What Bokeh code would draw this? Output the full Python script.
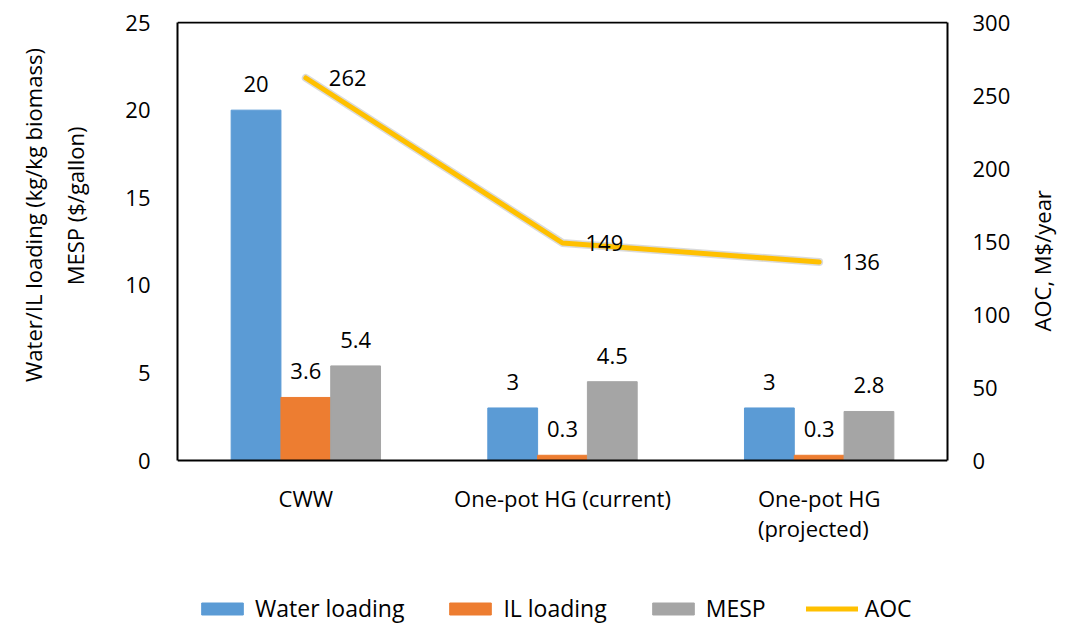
import math
from bokeh.plotting import figure
from bokeh.models import (FactorRange, Range1d, LinearAxis, FixedTicker, ColumnDataSource,
                          LabelSet, Legend, LegendItem, Span)
from bokeh.core.properties import value
from bokeh.transform import dodge
from bokeh.embed import file_html
from bokeh.resources import INLINE

# ---- data ----
categories = ["CWW", "One-pot HG (current)", "One-pot HG\n(projected)"]
water_loading = [20, 3, 3]
il_loading = [3.6, 0.3, 0.3]
mesp = [5.4, 4.5, 2.8]
aoc = [262, 149, 136]
left_ticks = [0, 5, 10, 15, 20, 25]
right_ticks = [0, 50, 100, 150, 200, 250, 300]
series_names = ["Water loading", "IL loading", "MESP", "AOC"]
right_title = "AOC, M$/year"
left_title_lines = ["Water/IL loading (kg/kg biomass)", "MESP ($/gallon)"]

# axis extents (the frame reaches down to hold category labels and legend)
left_range = (-9.36, 25.06)
right_range = (-112.3, 300.7)
# anchor positions (axis units) of the rotated axis titles
left_title_at = [23.54, 19.06]
right_title_at = 88.4

FONT = "Open Sans"
FS = "22px"
BLUE, ORANGE, GRAY, GOLD = "#5B9BD5", "#ED7D31", "#A5A5A5", "#FFC000"

src = ColumnDataSource(dict(
    cat=categories, water=water_loading, il=il_loading, mesp=mesp, aoc=aoc,
    water_t=[f"{v:g}" for v in water_loading],
    il_t=[f"{v:g}" for v in il_loading],
    mesp_t=[f"{v:g}" for v in mesp],
    aoc_t=[f"{v:g}" for v in aoc],
))

p = figure(width=1075, height=624, x_range=FactorRange(factors=categories),
           y_range=Range1d(*left_range), output_backend="svg", toolbar_location=None,
           min_border_left=176, min_border_right=125, min_border_top=21,
           min_border_bottom=0)
p.extra_y_ranges = {"aoc": Range1d(*right_range)}
p.grid.visible = False
p.outline_line_color = None
p.background_fill_color = "white"
p.border_fill_color = "white"

BW = 0.194
r_w = p.vbar(x=dodge("cat", -BW, range=p.x_range), top="water", width=BW, source=src,
             fill_color=BLUE, line_color=BLUE)
r_i = p.vbar(x=dodge("cat", 0, range=p.x_range), top="il", width=BW, source=src,
             fill_color=ORANGE, line_color=ORANGE)
r_m = p.vbar(x=dodge("cat", BW, range=p.x_range), top="mesp", width=BW, source=src,
             fill_color=GRAY, line_color=GRAY)

# soft shadow + line
p.line(x="cat", y="aoc", y_range_name="aoc", source=src, line_color="#555555",
       line_alpha=0.22, line_width=8, line_join="round", line_cap="round")
r_a = p.line(x="cat", y="aoc", y_range_name="aoc", source=src, line_color=GOLD,
             line_width=5, line_join="round", line_cap="round")

# bottom and top edges of the plot box
p.add_layout(Span(location=left_ticks[0], dimension="width", line_color="black", line_width=2))
p.add_layout(Span(location=left_ticks[-1], dimension="width", line_color="black", line_width=2))

def labels(xoff, col, txt):
    return LabelSet(x=dodge("cat", xoff, range=p.x_range), y=col, text=txt, source=src,
                    text_align="center", text_baseline="middle", y_offset=26,
                    text_font=value(FONT), text_font_size=value(FS),
                    text_color=value("black"))

p.add_layout(labels(-BW, "water", "water_t"))
p.add_layout(labels(0, "il", "il_t"))
p.add_layout(labels(BW, "mesp", "mesp_t"))
p.add_layout(LabelSet(x="cat", y="aoc", text="aoc_t", source=src, y_range_name="aoc",
                      x_offset=23, text_align="left", text_baseline="middle",
                      text_font=value(FONT), text_font_size=value(FS),
                      text_color=value("black")))

# category labels under the baseline
p.add_layout(LabelSet(x="cat", y=0, text="cat", source=src, y_offset=-22,
                      text_align="center", text_baseline="top", text_line_height=1.0,
                      text_font=value(FONT), text_font_size=value(FS),
                      text_color=value("black")))

def style_axis(ax):
    ax.axis_line_color = None
    ax.major_tick_line_color = None
    ax.minor_tick_line_color = None
    ax.major_label_text_font = FONT
    ax.major_label_text_font_size = FS
    ax.major_label_text_color = "black"

p.xaxis.visible = False

ya = p.yaxis[0]
style_axis(ya)
ya.ticker = FixedTicker(ticks=left_ticks)
ya.major_label_standoff = 21
ya.bounds = (left_ticks[0], left_ticks[-1])
ya.axis_line_color = "black"
ya.axis_line_width = 2

# left title: each line a rotated tick label on its own axis (inner line first)
for line, pos, standoff in [(left_title_lines[1], left_title_at[1], 41),
                            (left_title_lines[0], left_title_at[0], 3)]:
    lt = LinearAxis(ticker=FixedTicker(ticks=[pos]))
    style_axis(lt)
    lt.major_label_overrides = {pos: line}
    lt.major_label_orientation = math.pi / 2
    lt.major_label_standoff = standoff
    p.add_layout(lt, "left")

ra = LinearAxis(y_range_name="aoc", ticker=FixedTicker(ticks=right_ticks))
style_axis(ra)
ra.major_label_standoff = 19
ra.bounds = (right_ticks[0], right_ticks[-1])
ra.axis_line_color = "black"
ra.axis_line_width = 2
p.add_layout(ra, "right")

# right title as a rotated tick label (reads bottom-to-top)
rt = LinearAxis(y_range_name="aoc", ticker=FixedTicker(ticks=[right_title_at]))
style_axis(rt)
rt.major_label_overrides = {right_title_at: right_title}
rt.major_label_orientation = math.pi / 2
rt.major_label_standoff = 23
p.add_layout(rt, "right")

legend = Legend(items=[LegendItem(label=series_names[0], renderers=[r_w]),
                       LegendItem(label=series_names[1], renderers=[r_i]),
                       LegendItem(label=series_names[2], renderers=[r_m]),
                       LegendItem(label=series_names[3], renderers=[r_a])],
                orientation="horizontal", location=(19, 0),
                border_line_color=None, background_fill_alpha=0,
                padding=0, margin=0, spacing=40, label_standoff=7,
                glyph_width=52, glyph_height=15, label_height=22,
                label_text_font=FONT, label_text_font_size="23px",
                label_text_color="black")
p.add_layout(legend)

open("out.html", "w").write(file_html(p, INLINE))
